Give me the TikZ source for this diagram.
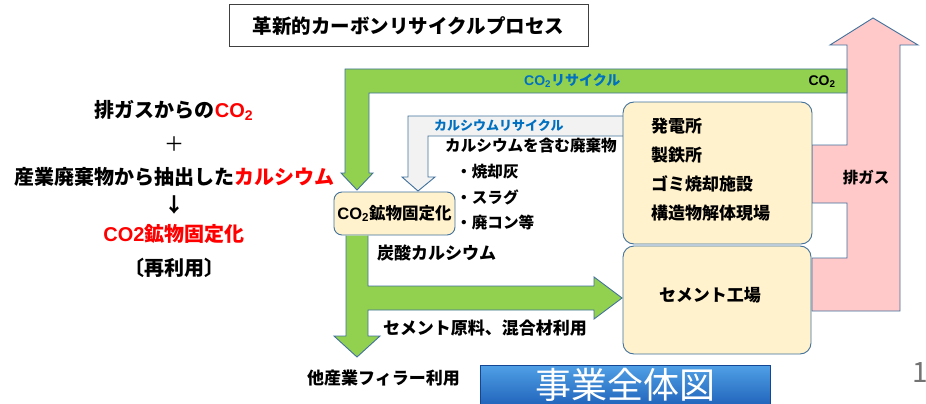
\documentclass[tikz,border=0pt]{standalone}
\usepackage{fontspec}
\setmainfont{Noto Sans CJK JP}
\newfontfamily\lat{Liberation Sans}
\newcommand\fs[1]{\fontsize{#1}{#1}\selectfont}
\newcommand\cotwo{{\lat CO\textsubscript{2}}}
\definecolor{edge}{HTML}{41719C}
\definecolor{grn}{HTML}{92D050}
\definecolor{pnk}{HTML}{FFC9C9}
\definecolor{boxfill}{HTML}{FFF2CC}
\definecolor{gry}{HTML}{F2F2F2}
\definecolor{blu}{HTML}{0070C0}
\definecolor{rd}{HTML}{FF0000}
\begin{document}
\begin{tikzpicture}[x=1pt,y=-1pt,
  outl/.style={draw=edge, line width=0.9pt, line join=miter},
  bigbox/.style={draw=edge, fill=boxfill, rounded corners=11pt, line width=0.9pt, inner sep=0pt},
  txt/.style={font=\bfseries\fs{17}, inner sep=0pt, anchor=west},
  ctxt/.style={font=\bfseries\fs{20}, inner sep=0pt}]
\useasboundingbox (0,0) rectangle (926,404);
\fill[white] (0,0) rectangle (926,404);
% title
\node[draw=black!75, line width=1pt, minimum width=359pt, minimum height=42pt, inner sep=0pt,
  font=\bfseries\fs{19.5}] (title) at (408.5,26) {革新的カーボンリサイクルプロセス};
% pink exhaust arrow
\path[outl, fill=pnk] (812,145) -- (847,145) -- (847,45) -- (830,45) -- (873,18) -- (918,45)
  -- (900,45) -- (900,311) -- (812,311) -- (812,258) -- (847,258) -- (847,203) -- (812,203) -- cycle;
% green CO2 recycle arrow
\path[outl, fill=grn] (847,69) -- (345,69) -- (345,173) -- (341,173) -- (357,190) -- (373,173)
  -- (369,173) -- (369,93) -- (847,93) -- cycle;
% grey calcium recycle arrow
\path[outl, fill=gry] (640,116) -- (408,116) -- (408,177) -- (402,177) -- (418,191) -- (435,177)
  -- (428,177) -- (428,136) -- (640,136) -- cycle;
% boxes
\node[bigbox, minimum width=189pt, minimum height=142pt] (src) at (717.5,173) {};
\node[bigbox, minimum width=188pt, minimum height=108pt] (cem) at (717,300) {};
\node[draw=edge, fill=boxfill, rounded corners=8pt, line width=0.9pt, inner sep=0pt,
  minimum width=121pt, minimum height=43pt, font=\bfseries\fs{16.5}] (fix) at (394.5,213.5)
  {\cotwo 鉱物固定化};
% green lower arrows
\path[outl, fill=grn] (346,235.5) -- (346,336) -- (334,336) -- (357,357) -- (380,336) -- (368,336)
  -- (368,310) -- (594,310) -- (594,319) -- (622,298) -- (594,277) -- (594,286) -- (368,286)
  -- (368,235.5);
% arrow labels
\node[font=\bfseries\fs{14}, text=blu, inner sep=0pt, anchor=west] (co2r) at (524,81) {\cotwo リサイクル};
\node[font=\bfseries\fs{14}, inner sep=0pt] (co2) at (822,82) {\cotwo};
\node[font=\bfseries\fs{13}, text=blu, inner sep=0pt, anchor=west] (car) at (434,126) {カルシウムリサイクル};
\node[font=\bfseries\fs{15.5}, inner sep=0pt] (exh) at (866,178) {排ガス};
% source texts
\node[txt] (s1) at (651,126) {発電所};
\node[txt] (s2) at (651,155) {製鉄所};
\node[txt] (s3) at (651,184) {ゴミ焼却施設};
\node[txt] (s4) at (651,213) {構造物解体現場};
\node[font=\bfseries\fs{17}, inner sep=0pt] (cemt) at (710,295) {セメント工場};
% waste texts
\node[txt, font=\bfseries\fs{15.6}] (w0) at (445,146) {カルシウムを含む廃棄物};
\node[txt, font=\bfseries\fs{15.6}] (w1) at (456,172) {・焼却灰};
\node[txt, font=\bfseries\fs{15.6}] (w2) at (456,197) {・スラグ};
\node[txt, font=\bfseries\fs{15.6}] (w3) at (456,223) {・廃コン等};
\node[txt] (caco) at (377,253) {炭酸カルシウム};
\node[txt] (cemuse) at (383,328) {セメント原料、混合材利用};
\node[txt] (filler) at (307,378) {他産業フィラー利用};
% left summary
\node[ctxt] (l1) at (174,110) {排ガスからの\textcolor{rd}{\cotwo}};
\node[ctxt, font=\fs{20}] (l2) at (174,144) {＋};
\node[ctxt] (l3) at (174,177) {産業廃棄物から抽出した\textcolor{rd}{カルシウム}};
\node[ctxt] (l4) at (174,205) {↓};
\node[ctxt, text=rd] (l5) at (174,234) {{\lat CO2}鉱物固定化};
\node[ctxt] (l6) at (174,268) {〔再利用〕};
% button
\path[top color={rgb,255:red,80;green,160;blue,230}, bottom color={rgb,255:red,25;green,90;blue,180},
  draw={rgb,255:red,20;green,70;blue,150}, line width=0.8pt] (480,365) rectangle (770,412);
\node[font=\fs{36}, text=white, inner sep=0pt] (btn) at (625,385) {事業全体図};
\node[font=\fs{28}, text=black!55, inner sep=0pt] (pg) at (920,373) {1};
\end{tikzpicture}
\end{document}
